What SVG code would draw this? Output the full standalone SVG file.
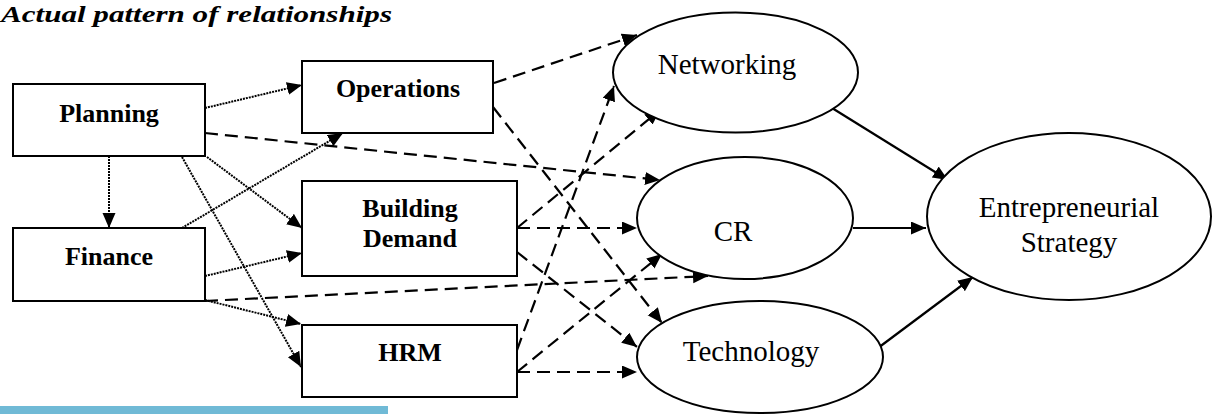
<svg xmlns="http://www.w3.org/2000/svg" width="1212" height="414" viewBox="0 0 1212 414">
<style>
.box{fill:#fff;stroke:#000;stroke-width:2}
.ell{fill:#fff;stroke:#000;stroke-width:2}
.bt{font-family:"Liberation Serif",serif;font-weight:bold;font-size:26px;text-anchor:middle;fill:#000}
.rt{font-family:"Liberation Serif",serif;font-size:29px;text-anchor:middle;fill:#000}
.dot{fill:none;stroke:#000;stroke-width:2;stroke-dasharray:2 1}
.dash{fill:none;stroke:#000;stroke-width:2.2;stroke-dasharray:13 7}
.sol{fill:none;stroke:#000;stroke-width:2.2}
</style>
<defs>
<marker id="ah" markerUnits="userSpaceOnUse" markerWidth="16" markerHeight="14" refX="15" refY="6.5" orient="auto">
<path d="M0,0 L15,6.5 L0,13 z" fill="#000"/>
</marker>
</defs>
<rect width="1212" height="414" fill="#fff"/>
<text x="1" y="22" font-family="Liberation Serif,serif" font-style="italic" font-weight="bold" font-size="24" textLength="391" lengthAdjust="spacingAndGlyphs">Actual pattern of relationships</text>
<rect x="0" y="406" width="388" height="8" fill="#70BAD6"/>

<g id="connectors">
<line class="dot" x1="205" y1="108" x2="302" y2="85" marker-end="url(#ah)"/>
<line class="dot" x1="109" y1="156" x2="109" y2="228" marker-end="url(#ah)"/>
<line class="dot" x1="207" y1="157" x2="302" y2="228" marker-end="url(#ah)"/>
<line class="dot" x1="182" y1="157" x2="301" y2="367" marker-end="url(#ah)"/>
<line class="dot" x1="182" y1="228" x2="343" y2="133" marker-end="url(#ah)"/>
<line class="dot" x1="205" y1="276" x2="302" y2="253" marker-end="url(#ah)"/>
<line class="dot" x1="205" y1="300" x2="301" y2="324" marker-end="url(#ah)"/>
<line class="dash" x1="205" y1="133" x2="660" y2="180" marker-end="url(#ah)"/>
<line class="dash" x1="205" y1="301" x2="708" y2="276" marker-end="url(#ah)"/>
<line class="dash" x1="494" y1="83" x2="637" y2="35" marker-end="url(#ah)"/>
<line class="dash" x1="493" y1="107" x2="662" y2="323" marker-end="url(#ah)"/>
<line class="dash" x1="517" y1="228" x2="660" y2="110" marker-end="url(#ah)"/>
<line class="dash" x1="517" y1="228" x2="637" y2="228" marker-end="url(#ah)"/>
<line class="dash" x1="517" y1="252" x2="637" y2="347" marker-end="url(#ah)"/>
<line class="dash" x1="517" y1="350" x2="614" y2="86" marker-end="url(#ah)"/>
<line class="dash" x1="517" y1="372" x2="662" y2="254" marker-end="url(#ah)"/>
<line class="dash" x1="517" y1="372" x2="637" y2="372" marker-end="url(#ah)"/>
<line class="sol" x1="832" y1="108" x2="948" y2="180" marker-end="url(#ah)"/>
<line class="sol" x1="853" y1="228" x2="926" y2="228" marker-end="url(#ah)"/>
<line class="sol" x1="878" y1="348" x2="973" y2="277" marker-end="url(#ah)"/>
</g>

<g id="planning"><rect class="box" x="13" y="84" width="192" height="72"/><text class="bt" x="109" y="122">Planning</text></g>
<g id="finance"><rect class="box" x="13" y="228" width="192" height="73"/><text class="bt" x="109" y="265">Finance</text></g>
<g id="operations"><rect class="box" x="302" y="61" width="191" height="72"/><text class="bt" x="398" y="97">Operations</text></g>
<g id="building-demand"><rect class="box" x="302" y="181" width="215" height="95"/><text class="bt" x="410" y="217">Building</text><text class="bt" x="410" y="247">Demand</text></g>
<g id="hrm"><rect class="box" x="302" y="325" width="215" height="72"/><text class="bt" x="410" y="361">HRM</text></g>
<g id="networking"><ellipse class="ell" cx="735.5" cy="72.5" rx="122.5" ry="60"/><text class="rt" x="727" y="74">Networking</text></g>
<g id="cr"><ellipse class="ell" cx="745" cy="218" rx="108" ry="61"/><text class="rt" x="733" y="241">CR</text></g>
<g id="technology"><ellipse class="ell" cx="760" cy="357" rx="123" ry="56"/><text class="rt" x="751" y="361">Technology</text></g>
<g id="entrepreneurial-strategy"><ellipse class="ell" cx="1069" cy="216.5" rx="142" ry="83.5"/><text class="rt" x="1069" y="217">Entrepreneurial</text><text class="rt" x="1069" y="252">Strategy</text></g>
</svg>
